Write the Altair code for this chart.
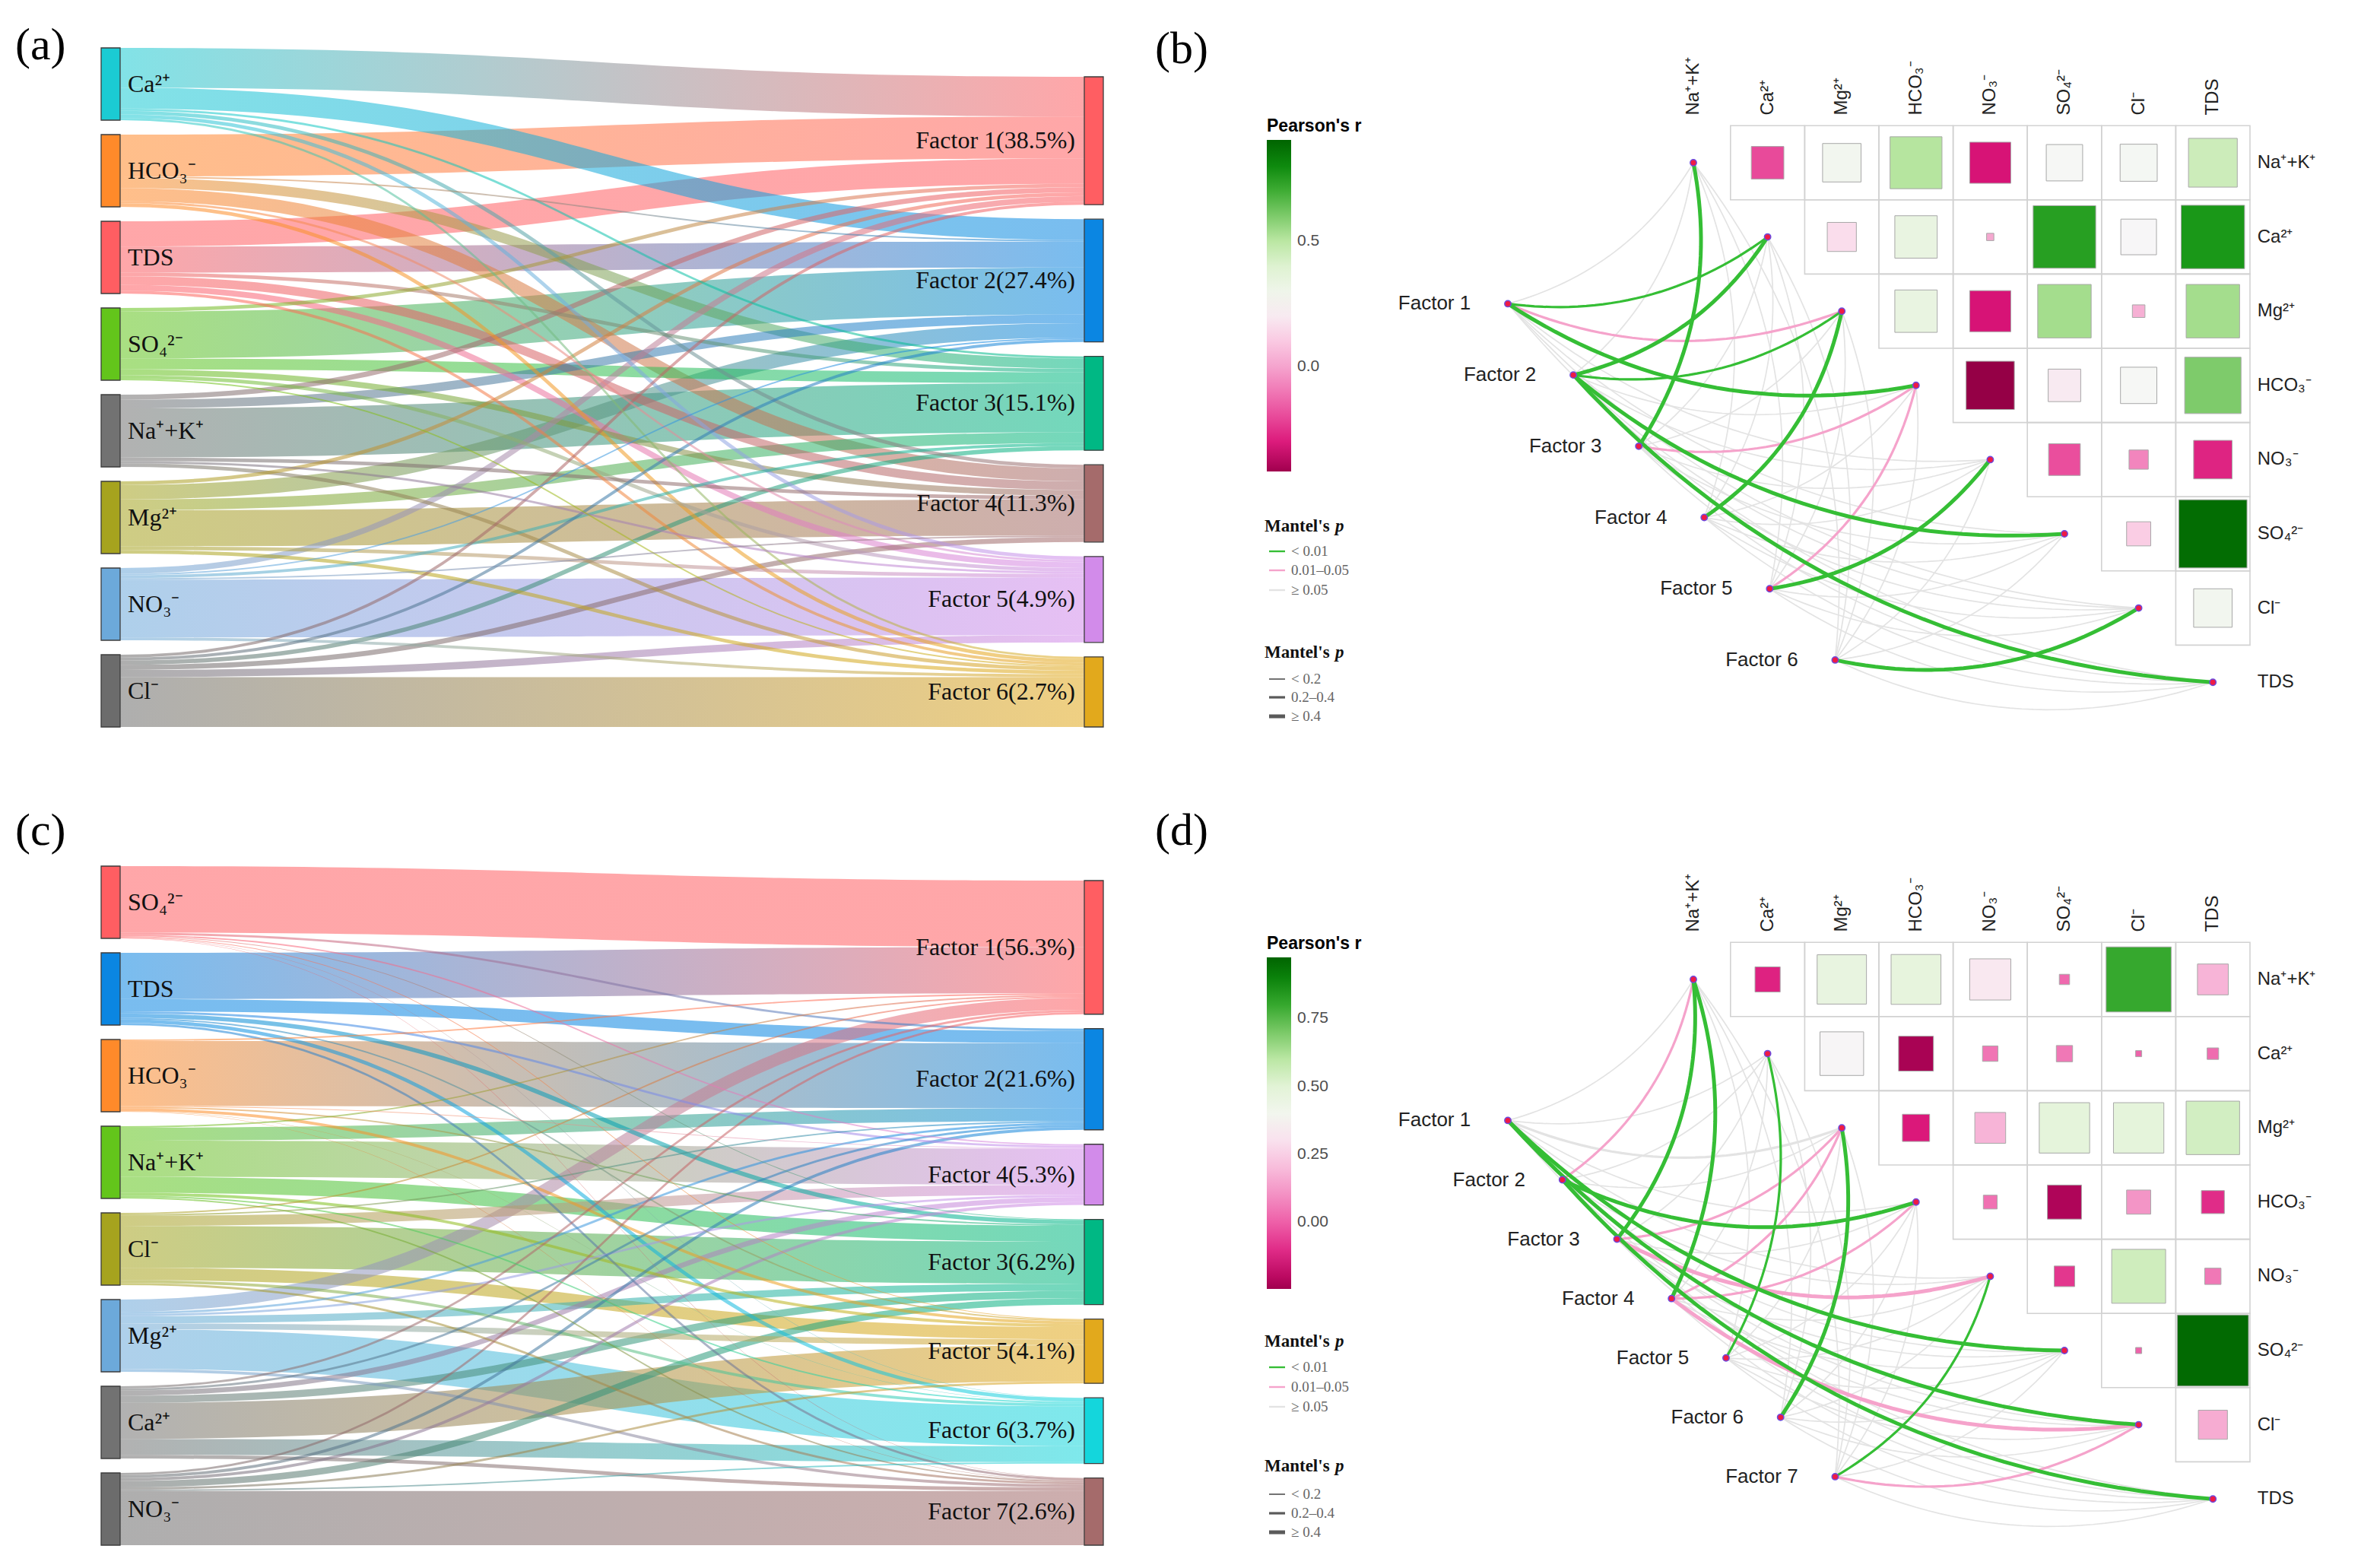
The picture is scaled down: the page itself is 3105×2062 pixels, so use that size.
import math
import altair as alt
import pandas as pd

# ---------------- panel (a): source contributions to factors ----------------
A_SOURCES = ["Ca²⁺", "HCO₃⁻", "TDS", "SO₄²⁻", "Na⁺+K⁺", "Mg²⁺", "NO₃⁻", "Cl⁻"]
A_SOURCE_COLORS = ["#1BCBD3", "#FF8A2A", "#FF5E62", "#63C51B", "#727272", "#A6A31E", "#6CA9DA", "#6C6C6C"]
A_FACTORS = ["Factor 1(38.5%)", "Factor 2(27.4%)", "Factor 3(15.1%)", "Factor 4(11.3%)",
             "Factor 5(4.9%)", "Factor 6(2.7%)"]
A_FACTOR_COLORS = ["#FF5E62", "#0B86E2", "#00B884", "#A56B6B", "#D28BEA", "#E2A91C"]
A_FLOWS = [
    [0.55, 0.29, 0.03, 0.05, 0.05, 0.03],
    [0.58, 0.02, 0.14, 0.18, 0.03, 0.05],
    [0.35, 0.36, 0.05, 0.12, 0.08, 0.04],
    [0.05, 0.65, 0.15, 0.08, 0.05, 0.02],
    [0.07, 0.12, 0.68, 0.05, 0.03, 0.05],
    [0.05, 0.20, 0.15, 0.50, 0.05, 0.05],
    [0.08, 0.02, 0.04, 0.02, 0.80, 0.04],
    [0.04, 0.04, 0.06, 0.07, 0.10, 0.69],
]

# ---------------- panel (c) ----------------
C_SOURCES = ["SO₄²⁻", "TDS", "HCO₃⁻", "Na⁺+K⁺", "Cl⁻", "Mg²⁺", "Ca²⁺", "NO₃⁻"]
C_SOURCE_COLORS = ["#FF5E62", "#0B86E2", "#FF8A2A", "#63C51B", "#A6A31E", "#6CA9DA", "#727272", "#6C6C6C"]
C_FACTORS = ["Factor 1(56.3%)", "Factor 2(21.6%)", "Factor 4(5.3%)", "Factor 3(6.2%)",
             "Factor 5(4.1%)", "Factor 6(3.7%)", "Factor 7(2.6%)"]
C_FACTOR_COLORS = ["#FF5E62", "#0B86E2", "#D28BEA", "#00B884", "#E2A91C", "#14D6DC", "#A56B6B"]
C_FLOWS = [
    [0.92, 0.03, 0.02, 0.01, 0.01, 0.005, 0.005],
    [0.64, 0.17, 0.03, 0.06, 0.02, 0.05, 0.03],
    [0.02, 0.90, 0.01, 0.02, 0.04, 0.005, 0.005],
    [0.02, 0.18, 0.50, 0.22, 0.04, 0.02, 0.02],
    [0.02, 0.02, 0.14, 0.58, 0.17, 0.04, 0.03],
    [0.17, 0.03, 0.03, 0.10, 0.08, 0.55, 0.04],
    [0.03, 0.03, 0.07, 0.10, 0.50, 0.22, 0.05],
    [0.03, 0.04, 0.04, 0.09, 0.03, 0.02, 0.75],
]

# ---------------- panels (b) and (d): Pearson r + Mantel test ----------------
VARS = ["Na⁺+K⁺", "Ca²⁺", "Mg²⁺", "HCO₃⁻", "NO₃⁻", "SO₄²⁻", "Cl⁻", "TDS"]

B_R = [
    [-0.20, 0.28, 0.51, -0.32, 0.25, 0.26, 0.45],
    [0.16, 0.34, 0.01, 0.74, 0.24, 0.76],
    [0.34, -0.32, 0.54, 0.03, 0.54],
    [-0.44, 0.20, 0.25, 0.60],
    [-0.19, -0.07, -0.28],
    [0.11, 0.88],
    [0.28],
]
B_FACTORS = ["Factor 1", "Factor 2", "Factor 3", "Factor 4", "Factor 5", "Factor 6"]
# Mantel's p class per factor x variable: g < 0.01, p 0.01-0.05, n >= 0.05
B_P = ["ngpgnnnn", "nggnngng", "gnnpnnnn", "nngnnnnn", "nnnpgnnn", "nnnnnngn"]
# Mantel's r class: 0 < 0.2, 1 0.2-0.4, 2 >= 0.4
B_W = ["01120000", "02100202", "20010000", "00200000", "00012000", "00000020"]
B_RANGE = (-0.42, 0.905)
B_TICKS = [0.0, 0.5]

D_R = [
    [-0.12, 0.46, 0.47, 0.32, 0.02, 0.80, 0.18],
    [0.36, -0.23, 0.045, 0.05, 0.007, 0.025],
    [-0.14, 0.18, 0.48, 0.48, 0.54],
    [0.036, -0.22, 0.11, -0.10],
    [-0.08, 0.55, 0.05],
    [0.007, 0.96],
    [0.16],
]
D_FACTORS = ["Factor 1", "Factor 2", "Factor 3", "Factor 4", "Factor 5", "Factor 6", "Factor 7"]
D_P = ["nnnnnggn", "pnngnnng", "gnpnpnnn", "gnppnnpn", "ngnnnnnn", "nngnnnnn", "nnnngnpn"]
D_W = ["00100220", "10020002", "20102000", "20110020", "01000000", "00200000", "00001010"]
D_RANGE = (-0.245, 0.975)
D_TICKS = [0.0, 0.25, 0.5, 0.75]

P_CODES = ["g", "p", "n"]
P_LABELS = ["< 0.01", "0.01–0.05", "≥ 0.05"]
W_LABELS = ["< 0.2", "0.2–0.4", "≥ 0.4"]

# ---------------- styling / layout ----------------
SERIF = "Liberation Serif"
SANS = "Liberation Sans"
LW, RW = 1480, 1605
TH, BH = 1015, 1027

KY, GAP = 95.0, 19.0
XL0, XL1, XR0, XR1 = 125.0, 150.0, 1418.0, 1443.0
NS = 48

PCOL = {"g": "#35BE35", "p": "#F5A3CB", "n": "#E3E3E3"}
WPX = {"0": 1.7, "1": 3.2, "2": 5.0}
HEAT_T = [0, 0.08, 0.2, 0.32, 0.41, 0.5, 0.61, 0.70, 0.82, 0.90, 1.0]
HEAT_C = ["#A0004E", "#DA1478", "#EE5FA8", "#F5A6CF", "#FBD2E7", "#F7F7F7",
          "#E2F3D6", "#B8E6A0", "#55B845", "#129412", "#006400"]
CELL = 97.6
GX0 = 739.0


def sankey_panel(letter, sources, scolors, factors, fcolors, flows, width, height, top, letter_y):
    xs = alt.Scale(domain=[0, width], nice=False, zero=False)
    ys = alt.Scale(domain=[0, height], nice=False, zero=False, reverse=True)
    X = lambda f: alt.X(f, type="quantitative", scale=xs, axis=None)
    Y = lambda f: alt.Y(f, type="quantitative", scale=ys, axis=None)
    ns, nf = len(sources), len(factors)
    svals = [sum(r) for r in flows]
    fvals = [sum(flows[i][j] for i in range(ns)) for j in range(nf)]
    s_top, y = [], top
    for v in svals:
        s_top.append(y)
        y += v * KY + GAP
    bottom = y - GAP
    y = bottom - (sum(fvals) * KY + (nf - 1) * GAP)
    f_top = []
    for v in fvals:
        f_top.append(y)
        y += v * KY + GAP
    s_cur, f_cur = list(s_top), list(f_top)
    links = []
    for i in range(ns):
        for j in range(nf):
            w = flows[i][j] * KY
            links.append((flows[i][j], i, j, s_cur[i] + w / 2, f_cur[j] + w / 2, w))
            s_cur[i] += w
            f_cur[j] += w
    links.sort(key=lambda l: -l[0])
    xm = (XL1 + XR0) / 2
    layers = []
    for val, i, j, ya, yb, w in links:
        rows = []
        for k in range(NS + 1):
            t = k / NS
            u = 1 - t
            x = u ** 3 * XL1 + 3 * u * u * t * xm + 3 * u * t * t * xm + t ** 3 * XR0
            yc = ya + (yb - ya) * (3 * t * t - 2 * t ** 3)
            dxdt = 3 * (xm - XL1) * (u * u + t * t)
            dydt = (yb - ya) * 6 * t * u
            h = w / 2 * math.sqrt(1 + (dydt / dxdt) ** 2)
            rows.append({"x": x, "y0": yc - h, "y1": yc + h})
        grad = alt.Gradient(gradient="linear",
                            stops=[alt.GradientStop(color=scolors[i], offset=0),
                                   alt.GradientStop(color=fcolors[j], offset=1)],
                            x1=0, x2=1, y1=0, y2=0)
        layers.append(alt.Chart(pd.DataFrame(rows)).mark_area(
            color=grad, fillOpacity=0.55, interpolate="linear").encode(
            x=X("x"), y=Y("y0"), y2="y1:Q"))
    nodes = []
    for i in range(ns):
        nodes.append({"x": XL0, "x2": XL1, "y": s_top[i], "y2": s_top[i] + svals[i] * KY, "c": scolors[i]})
    for j in range(nf):
        nodes.append({"x": XR0, "x2": XR1, "y": f_top[j], "y2": f_top[j] + fvals[j] * KY, "c": fcolors[j]})
    layers.append(alt.Chart(pd.DataFrame(nodes)).mark_rect(stroke="#3c3c3c", strokeWidth=1.3).encode(
        x=X("x"), x2="x2:Q", y=Y("y"), y2="y2:Q", color=alt.Color("c:N", scale=None)))
    lab_l = pd.DataFrame({"x": [XL1 + 10] * ns,
                          "y": [s_top[i] + svals[i] * KY / 2 for i in range(ns)], "t": sources})
    lab_r = pd.DataFrame({"x": [XR0 - 12] * nf,
                          "y": [f_top[j] + fvals[j] * KY / 2 for j in range(nf)], "t": factors})
    layers.append(alt.Chart(lab_l).mark_text(align="left", baseline="middle", font=SERIF,
                                             fontSize=32, color="#111111").encode(
        x=X("x"), y=Y("y"), text="t:N"))
    layers.append(alt.Chart(lab_r).mark_text(align="right", baseline="middle", font=SERIF,
                                             fontSize=32, color="#111111").encode(
        x=X("x"), y=Y("y"), text="t:N"))
    layers.append(alt.Chart(pd.DataFrame({"x": [12], "y": [letter_y], "t": [letter]})).mark_text(
        align="left", baseline="middle", font=SERIF, fontSize=60, color="#000000").encode(
        x=X("x"), y=Y("y"), text="t:N"))
    return alt.layer(*layers).properties(width=width, height=height)


def mantel_panel(letter, R, factors, P, W, rng, ticks, fmt, width, height, gy0, leg_y,
                 letter_y, mt1, mitems1, mt2, mitems2):
    gx = lambda px: (px - GX0) / CELL
    gy = lambda py: (py - gy0) / CELL
    xs = alt.Scale(domain=[gx(0), gx(width)], nice=False, zero=False)
    ys = alt.Scale(domain=[gy(0), gy(height)], nice=False, zero=False, reverse=True)
    X = lambda f: alt.X(f, type="quantitative", scale=xs, axis=None)
    Y = lambda f: alt.Y(f, type="quantitative", scale=ys, axis=None)
    layers = []

    # cell frames and correlation squares
    cells = []
    for i, row in enumerate(R):
        for jj, r in enumerate(row):
            j = i + 1 + jj
            cells.append({"col": j, "row": i, "x0": j - 0.5, "x1": j + 0.5,
                          "y0": i - 0.5, "y1": i + 0.5, "r": r, "a": abs(r)})
    cdf = pd.DataFrame(cells)
    layers.append(alt.Chart(cdf).mark_rect(filled=False, stroke="#d2d2d2", strokeWidth=1.6).encode(
        x=X("x0"), x2="x1:Q", y=Y("y0"), y2="y1:Q"))
    lo, hi = rng
    dom = [lo + t * (hi - lo) for t in HEAT_T]
    layers.append(alt.Chart(cdf).mark_square(filled=True, opacity=1, stroke="#a8a8a8", strokeWidth=1).encode(
        x=X("col"), y=Y("row"),
        size=alt.Size("a:Q", scale=alt.Scale(domain=[0, 1], range=[0, (0.98 * CELL) ** 2]), legend=None),
        color=alt.Color("r:Q", scale=alt.Scale(domain=dom, range=HEAT_C, interpolate="rgb"),
                        legend=alt.Legend(title="Pearson's r", orient="none", legendX=178, legendY=leg_y,
                                          direction="vertical", gradientLength=436, gradientThickness=32,
                                          values=ticks, format=fmt, titleFont=SANS, titleFontSize=23,
                                          titleFontWeight="bold", titleColor="#000000", titleAnchor="start",
                                          titlePadding=6, labelFont=SANS, labelFontSize=21,
                                          labelColor="#4d4d4d", labelOffset=8, padding=0,
                                          gradientStrokeWidth=0))))

    # Mantel links
    n = len(factors)
    fpos = [(-2.50 + k * 4.41 / (n - 1), 1.90 + k * 4.80 / (n - 1)) for k in range(n)]
    groups = {}
    for k in range(n):
        for i in range(len(VARS)):
            p, w = P[k][i], W[k][i]
            x0, y0 = fpos[k]
            x2, y2 = float(i), float(i)
            dx, dy = x2 - x0, y2 - y0
            cx, cy = (x0 + x2) / 2 - 0.2 * dy, (y0 + y2) / 2 + 0.2 * dx
            pts = []
            for s in range(33):
                t = s / 32
                u = 1 - t
                pts.append({"id": f"{k}-{i}", "t": t,
                            "x": u * u * x0 + 2 * u * t * cx + t * t * x2,
                            "y": u * u * y0 + 2 * u * t * cy + t * t * y2})
            groups.setdefault((p, w), []).extend(pts)
    for pc in ["n", "p", "g"]:
        for wc in ["0", "1", "2"]:
            if (pc, wc) not in groups:
                continue
            layers.append(alt.Chart(pd.DataFrame(groups[(pc, wc)])).mark_line(
                color=PCOL[pc], strokeWidth=WPX[wc], strokeCap="round").encode(
                x=X("x"), y=Y("y"), detail="id:N", order="t:Q"))

    # nodes
    nodes = [{"x": fx, "y": fy} for fx, fy in fpos] + [{"x": float(i), "y": float(i)} for i in range(len(VARS))]
    layers.append(alt.Chart(pd.DataFrame(nodes)).mark_point(
        shape="circle", size=70, fill="#EE1B45", stroke="#6B4BE0", strokeWidth=1.5, opacity=1).encode(
        x=X("x"), y=Y("y")))

    # labels
    fl = pd.DataFrame({"x": [p[0] - 0.50 for p in fpos], "y": [p[1] for p in fpos], "t": factors})
    layers.append(alt.Chart(fl).mark_text(align="right", baseline="middle", font=SANS, fontSize=26,
                                          color="#222222").encode(x=X("x"), y=Y("y"), text="t:N"))
    rl = pd.DataFrame({"x": [7.6] * len(VARS), "y": list(range(len(VARS))), "t": VARS})
    layers.append(alt.Chart(rl).mark_text(align="left", baseline="middle", font=SANS, fontSize=24,
                                          color="#222222").encode(x=X("x"), y=Y("y"), text="t:N"))
    cl = pd.DataFrame({"x": list(range(len(VARS))), "y": [-0.64] * len(VARS), "t": VARS})
    layers.append(alt.Chart(cl).mark_text(align="left", baseline="middle", angle=270, font=SANS,
                                          fontSize=24, color="#222222").encode(x=X("x"), y=Y("y"), text="t:N"))

    # Mantel legends
    for ty, items, labels, kind in [(mt1, mitems1, P_LABELS, "p"), (mt2, mitems2, W_LABELS, "w")]:
        layers.append(alt.Chart(pd.DataFrame({"x": [gx(175)], "y": [gy(ty)], "t": ["Mantel's"]})).mark_text(
            align="left", baseline="middle", font=SERIF, fontSize=23, fontWeight="bold",
            color="#111111").encode(x=X("x"), y=Y("y"), text="t:N"))
        layers.append(alt.Chart(pd.DataFrame({"x": [gx(268)], "y": [gy(ty)], "t": ["p"]})).mark_text(
            align="left", baseline="middle", font=SERIF, fontSize=23, fontWeight="bold", fontStyle="italic",
            color="#111111").encode(x=X("x"), y=Y("y"), text="t:N"))
        for idx, (iy, lab) in enumerate(zip(items, labels)):
            if kind == "p":
                col, sw = PCOL[P_CODES[idx]], 2.4
            else:
                col, sw = "#5a5a5a", WPX[str(idx)]
            layers.append(alt.Chart(pd.DataFrame({"x": [gx(181)], "x2": [gx(202)], "y": [gy(iy)]})).mark_rule(
                color=col, strokeWidth=sw).encode(x=X("x"), x2="x2:Q", y=Y("y")))
            layers.append(alt.Chart(pd.DataFrame({"x": [gx(210)], "y": [gy(iy)], "t": [lab]})).mark_text(
                align="left", baseline="middle", font=SERIF, fontSize=19, color="#666666").encode(
                x=X("x"), y=Y("y"), text="t:N"))

    layers.append(alt.Chart(pd.DataFrame({"x": [gx(31)], "y": [gy(letter_y)], "t": [letter]})).mark_text(
        align="left", baseline="middle", font=SERIF, fontSize=60, color="#000000").encode(
        x=X("x"), y=Y("y"), text="t:N"))
    return alt.layer(*layers).properties(width=width, height=height)


pa = sankey_panel("(a)", A_SOURCES, A_SOURCE_COLORS, A_FACTORS, A_FACTOR_COLORS, A_FLOWS, LW, TH, 55, 52)
pc = sankey_panel("(c)", C_SOURCES, C_SOURCE_COLORS, C_FACTORS, C_FACTOR_COLORS, C_FLOWS, LW, BH, 116, 70)
pb = mantel_panel("(b)", B_R, B_FACTORS, B_P, B_W, B_RANGE, B_TICKS, ".1f", RW, TH, 206, 147, 57,
                  684, [717, 742, 768], 850, [885, 909, 934])
pd_ = mantel_panel("(d)", D_R, D_FACTORS, D_P, D_W, D_RANGE, D_TICKS, ".2f", RW, BH, 265, 207, 70,
                   741, [775, 801, 827], 905, [942, 967, 992])

top = alt.hconcat(pa, pb, spacing=0).resolve_scale(color="independent", size="independent")
bot = alt.hconcat(pc, pd_, spacing=0).resolve_scale(color="independent", size="independent")
chart = alt.vconcat(top, bot, spacing=0).resolve_scale(
    color="independent", size="independent").properties(padding=0).configure_view(stroke=None)

chart.save("out.html", embed_options={"renderer": "svg", "actions": False})
